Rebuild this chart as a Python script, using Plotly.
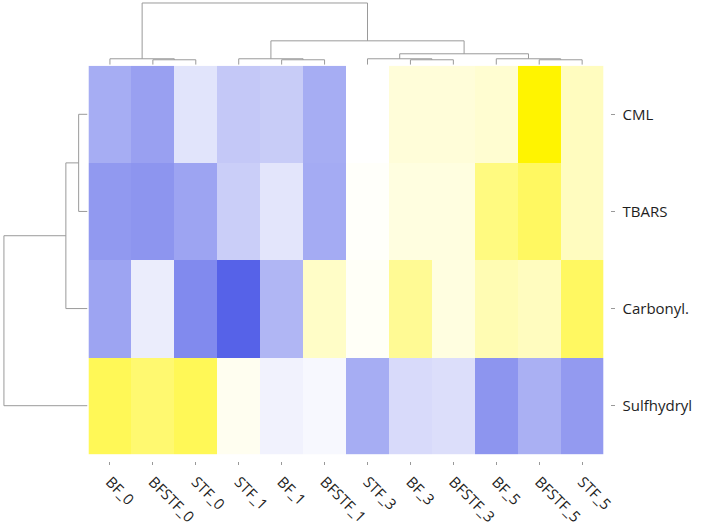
import plotly.graph_objects as go

# ---------------- data ----------------
columns = ["BF_0", "BFSTF_0", "STF_0", "STF_1", "BF_1", "BFSTF_1",
           "STF_3", "BF_3", "BFSTF_3", "BF_5", "BFSTF_5", "STF_5"]
rows = ["CML", "TBARS", "Carbonyl.", "Sulfhydryl"]

cml        = [-0.45, -0.52, -0.15, -0.30, -0.28, -0.45, 0.00, 0.15, 0.15, 0.18, 1.00, 0.25]
tbars      = [-0.56, -0.58, -0.50, -0.27, -0.14, -0.46, 0.02, 0.12, 0.12, 0.50, 0.62, 0.25]
carbonyl   = [-0.50, -0.10, -0.64, -0.86, -0.40, 0.22, 0.03, 0.42, 0.12, 0.30, 0.25, 0.62]
sulfhydryl = [0.66, 0.56, 0.66, 0.06, -0.07, -0.04, -0.45, -0.20, -0.18, -0.58, -0.43, -0.55]

# column dendrogram: (left node, right node, height); leaves 0..11, merges create 12, 13, ...
col_merges = [(1, 2, 5.0), (0, 12, 6.0), (4, 5, 5.0), (3, 14, 6.0),
              (7, 8, 5.0), (6, 16, 6.0), (10, 11, 5.0), (9, 18, 6.0),
              (17, 19, 11.0), (15, 20, 24.0), (13, 21, 62.0)]
# row dendrogram: leaves 0..3, merges create 4, 5, ...
row_merges = [(0, 1, 9.0), (2, 4, 22.0), (3, 5, 85.0)]

# ---------------- layout geometry ----------------
W, H = 709, 526
hx0, hx1 = 90, 614
hy0, hy1 = 66, 456

def px(v):
    return v / W

def py(v):
    return 1 - v / H

def dendro_segments(merges, n_leaves):
    pos = {i: float(i) for i in range(n_leaves)}
    hgt = {i: 0.0 for i in range(n_leaves)}
    segs = []
    for k, (a, b, h) in enumerate(merges):
        node = n_leaves + k
        segs.append(([pos[a], pos[a], pos[b], pos[b]], [hgt[a], h, h, hgt[b]]))
        pos[node] = (pos[a] + pos[b]) / 2
        hgt[node] = h
    return segs

z = [cml, tbars, carbonyl, sulfhydryl]

fig = go.Figure()
fig.add_trace(go.Heatmap(
    z=z, x=list(range(len(columns))), y=list(range(len(rows))),
    zmin=-1, zmax=1,
    colorscale=[[0.0, "#3a48e4"], [0.5, "#ffffff"], [1.0, "#fff400"]],
    showscale=False, xaxis="x", yaxis="y", hoverinfo="skip"))

line_style = dict(color="#9a9a9a", width=1)
for xs, hs in dendro_segments(col_merges, len(columns)):
    fig.add_trace(go.Scatter(x=xs, y=hs, mode="lines", line=line_style,
                             xaxis="x2", yaxis="y2", showlegend=False, hoverinfo="skip"))
for ys, hs in dendro_segments(row_merges, len(rows)):
    fig.add_trace(go.Scatter(x=hs, y=ys, mode="lines", line=line_style,
                             xaxis="x3", yaxis="y3", showlegend=False, hoverinfo="skip"))

font = dict(family="Open Sans", size=15, color="#1e1e1e")

fig.update_layout(
    width=W, height=H, margin=dict(l=0, r=0, t=0, b=0),
    paper_bgcolor="white", plot_bgcolor="white", showlegend=False,
    font=font,
    xaxis=dict(domain=[px(hx0), px(hx1)], range=[-0.5, 11.5],
               tickvals=list(range(len(columns))), ticktext=columns,
               tickangle=45, ticks="outside", ticklen=3, tickcolor="#999",
               anchor="free", position=py(hy1 + 7), ticklabelstandoff=2,
               showgrid=False, zeroline=False, showline=False, tickfont=font),
    yaxis=dict(domain=[py(hy1), py(hy0)], range=[3.5, -0.5],
               tickvals=list(range(len(rows))), ticktext=rows,
               side="right", ticks="outside", ticklen=4, tickcolor="#999",
               anchor="free", position=px(621), ticklabelstandoff=4,
               showgrid=False, zeroline=False, showline=False, tickfont=font),
    xaxis2=dict(domain=[px(hx0), px(hx1)], range=[-0.5, 11.5], anchor="y2",
                visible=False),
    yaxis2=dict(domain=[py(hy0 - 1), py(2)], range=[0, 63], anchor="x2",
                visible=False),
    xaxis3=dict(domain=[0, px(hx0 - 1)], range=[hx0 - 1, 0], anchor="y3",
                visible=False),
    yaxis3=dict(domain=[py(hy1), py(hy0)], range=[3.5, -0.5], anchor="x3",
                visible=False),
)

fig.write_html("out.html",
               post_script="document.body.style.margin='0';document.body.style.overflow='hidden';")
